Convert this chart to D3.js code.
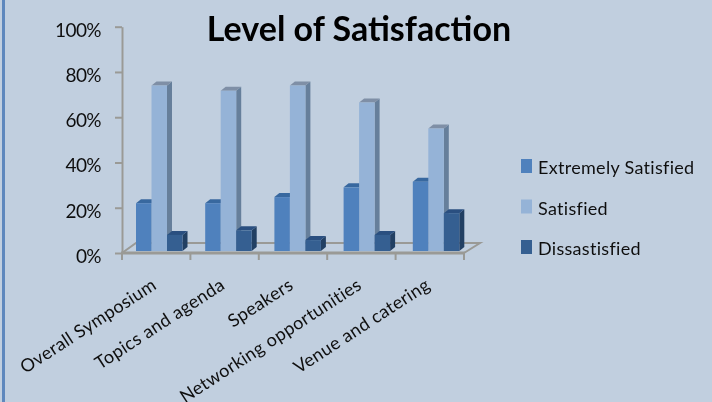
<!DOCTYPE html>
<html>
<head>
<meta charset="utf-8">
<script src="https://cdnjs.cloudflare.com/ajax/libs/d3/7.8.5/d3.min.js"></script>
<style>
  html, body { margin: 0; padding: 0; background: #c1cfdf; }
  svg { display: block; }
  text { font-family: Lato, "Open Sans", sans-serif; fill: #111; }
</style>
</head>
<body>
<div id="chart"></div>
<script>
const categories = ['Overall Symposium', 'Topics and agenda', 'Speakers', 'Networking opportunities', 'Venue and catering'];
const seriesNames = ['Extremely Satisfied', 'Satisfied', 'Dissastisfied'];
const extremelySatisfied = [22, 22, 24.7, 29, 31.5];
const satisfied = [74, 71.7, 74, 66.5, 55];
const dissatisfied = [8, 10, 5.7, 8, 17.6];
const yTicks = [0, 20, 40, 60, 80, 100];

const seriesValues = [extremelySatisfied, satisfied, dissatisfied];
const faceColors = [
  { front: '#4f81bd', side: '#38608f', top: '#38689f' },
  { front: '#95b3d7', side: '#667f9b', top: '#7f8fa6' },
  { front: '#345e91', side: '#213f63', top: '#2b5080' }
];

const width = 712, height = 402;
const depthX = 5, depthY = 4; // fake 3d offset of the bars
const floorX = 14, floorY = 10;

const svg = d3.select('#chart').append('svg')
    .attr('width', width)
    .attr('height', height);

// the reference is a slightly soft screenshot
svg.append('filter').attr('id', 'soft')
    .attr('x', 0).attr('y', 0).attr('width', 1).attr('height', 1)
    .attr('filterUnits', 'userSpaceOnUse')
    .attr('width', width).attr('height', height)
    .append('feGaussianBlur').attr('stdDeviation', 0.45);

const root = svg.append('g').attr('filter', 'url(#soft)');

root.append('rect').attr('width', width).attr('height', height).attr('fill', '#c1cfdf');
root.append('rect').attr('x', 2).attr('y', 0).attr('width', 3).attr('height', height).attr('fill', '#5f88bd');

const scaleX = d3.scaleBand().domain(categories).range([122, 464]);
const scaleBarX = d3.scaleBand().domain(categories).range([136, 482]);
const scaleY = d3.scaleLinear().domain([0, 100]).range([253, 26.7]);
const scaleSeries = d3.scaleBand().domain(seriesNames).range([0, 46.5]);

// floor
const y0 = scaleY(0);
root.append('path')
    .attr('fill', 'none')
    .attr('stroke', '#9a9a96')
    .attr('stroke-width', 2)
    .attr('d', d3.line()([[122, y0], [122 + floorX, y0 - floorY], [464 + floorX + 2, y0 - floorY], [464, y0]]));

// axes
const axisY = d3.axisLeft(scaleY).tickValues(yTicks).tickSize(7).tickSizeOuter(0).tickFormat((d) => d + '%');
const gY = root.append('g').attr('transform', 'translate(122,0)').call(axisY);
gY.selectAll('path,line').attr('stroke', '#9a9a96').attr('stroke-width', 2);
gY.selectAll('text').attr('x', -21).attr('dy', '0.5em').style('font-size', '19px').style('letter-spacing', '-0.6px');

root.append('line')
    .attr('x1', 121).attr('x2', 465).attr('y1', y0).attr('y2', y0)
    .attr('stroke', '#9a9a96').attr('stroke-width', 3);

const tickEdges = categories.map((c) => scaleX(c)).concat([scaleX.range()[1]]);
root.selectAll('.tick-x')
    .data(tickEdges)
    .enter().append('line')
    .attr('x1', (d) => d).attr('x2', (d) => d)
    .attr('y1', y0).attr('y2', y0 + 7)
    .attr('stroke', '#9a9a96').attr('stroke-width', 2);

// bars, three faces each
const baseY = y0 - 2;
seriesNames.forEach((name, s) => {
  const colors = faceColors[s];
  const bw = scaleSeries.bandwidth();
  categories.forEach((cat, i) => {
    const x = scaleBarX(cat) + scaleSeries(name);
    const top = scaleY(seriesValues[s][i]);
    const g = root.append('g');
    g.append('path').attr('fill', colors.side)
        .attr('d', d3.line()([[x + bw, top], [x + bw + depthX, top - depthY], [x + bw + depthX, baseY - depthY], [x + bw, baseY]]));
    g.append('path').attr('fill', colors.top)
        .attr('d', d3.line()([[x, top], [x + depthX, top - depthY], [x + bw + depthX, top - depthY], [x + bw, top]]));
    g.append('rect').attr('x', x).attr('y', top).attr('width', bw).attr('height', baseY - top).attr('fill', colors.front);
  });
});

// category labels
root.selectAll('.cat-label')
    .data(categories)
    .enter().append('text')
    .attr('text-anchor', 'end')
    .attr('transform', (d) => 'translate(' + (scaleX(d) + scaleX.bandwidth() / 2 + 1.5) + ',' + 288 + ') rotate(-33)')
    .style('font-size', '18px')
    .style('letter-spacing', '0.35px')
    .text((d) => d);

// title
root.append('text')
    .attr('x', 359).attr('y', 41)
    .attr('text-anchor', 'middle')
    .style('font-size', '34px')
    .style('font-weight', 700)
    .style('fill', '#000')
    .text('Level of Satisfaction');

// legend
const legendY = d3.scalePoint().domain(seriesNames).range([166, 247]);
seriesNames.forEach((name, s) => {
  root.append('rect')
      .attr('x', 521).attr('y', legendY(name) - 7)
      .attr('width', 11).attr('height', 14)
      .attr('fill', faceColors[s].front);
  root.append('text')
      .attr('x', 538).attr('y', legendY(name) + 8)
      .style('font-size', '18px')
      .style('letter-spacing', '0.3px')
      .text(name);
});
</script>
</body>
</html>
